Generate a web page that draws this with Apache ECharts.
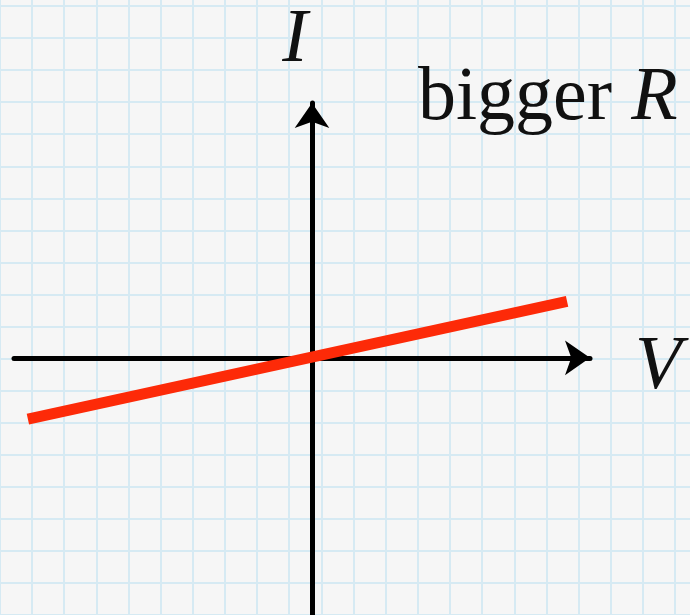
<!DOCTYPE html>
<html>
<head>
<meta charset="utf-8">
<script src="https://cdn.jsdelivr.net/npm/echarts@6/dist/echarts.min.js"></script>
<style>
  html, body { margin: 0; background: #f6f6f6; }
  #chart { width: 690px; height: 615px; }
</style>
</head>
<body>
<div id="chart"></div>
<script>
// the red I-V line (one grid square = 1 unit)
const voltage = [-8.8, 7.9];
const current = [-1.9, 1.75];
// visible extent of the V and I axes
const vRange = [-9.23, 8.61];
const iRange = [-7.96, 7.89];
// graph paper squares
const paperCols = 24;
const paperRows = 22;

const chart = echarts.init(document.getElementById('chart'));

const hidden = {
    axisLine: { show: false },
    axisTick: { show: false },
    axisLabel: { show: false }
};
const paperLine = { show: true, lineStyle: { color: '#d6eaf3', width: 2 } };
const arrowLine = {
    onZero: true,
    symbol: ['none', 'arrow'],
    symbolSize: [26, 25],
    lineStyle: { color: '#000', width: 5 }
};
const serif = '"Liberation Serif", "DejaVu Serif", serif';

chart.setOption({
    backgroundColor: '#f6f6f6',
    animation: false,
    title: {
        text: '{a|bigger }{b|R}',
        left: 413,
        top: 56,
        textStyle: {
            rich: {
                a: { fontFamily: serif, fontSize: 76, fontWeight: 'normal', color: '#111' },
                b: { fontFamily: serif, fontSize: 76, fontWeight: 'normal', fontStyle: 'italic', color: '#111' }
            }
        }
    },
    grid: [
        { left: 14, right: 100, top: 103, bottom: 0, outerBoundsMode: 'none', containLabel: false },
        { left: -32.3, top: -58.1, width: 771.6, height: 705.1, outerBoundsMode: 'none', containLabel: false }
    ],
    xAxis: [
        {
            type: 'value', gridIndex: 0, min: vRange[0], max: vRange[1], z: 2,
            axisLine: arrowLine, axisTick: { show: false }, axisLabel: { show: false },
            splitLine: { show: false },
            name: 'V', nameLocation: 'end', nameGap: 45,
            nameTextStyle: {
                fontFamily: serif, fontSize: 76, fontStyle: 'italic', color: '#111',
                verticalAlign: 'top', lineHeight: 20
            }
        },
        {
            type: 'value', gridIndex: 1, min: 0, max: paperCols, interval: 1, z: 0,
            ...hidden, splitLine: paperLine, minorSplitLine: { show: false }
        }
    ],
    yAxis: [
        {
            type: 'value', gridIndex: 0, min: iRange[0], max: iRange[1], z: 2,
            axisLine: arrowLine, axisTick: { show: false }, axisLabel: { show: false },
            splitLine: { show: false },
            name: 'I', nameLocation: 'end', nameGap: 23.5,
            nameTextStyle: { fontFamily: serif, fontSize: 76, fontStyle: 'italic', color: '#111', padding: [0, 34, 0, 0] }
        },
        {
            type: 'value', gridIndex: 1, min: 0, max: paperRows, interval: 1, z: 0,
            ...hidden, splitLine: paperLine, minorSplitLine: { show: false }
        }
    ],
    series: [
        {
            type: 'line',
            xAxisIndex: 0,
            yAxisIndex: 0,
            data: voltage.map((v, i) => [v, current[i]]),
            symbol: 'none',
            z: 5,
            lineStyle: { color: '#fd2a08', width: 11 }
        }
    ]
});
</script>
</body>
</html>
